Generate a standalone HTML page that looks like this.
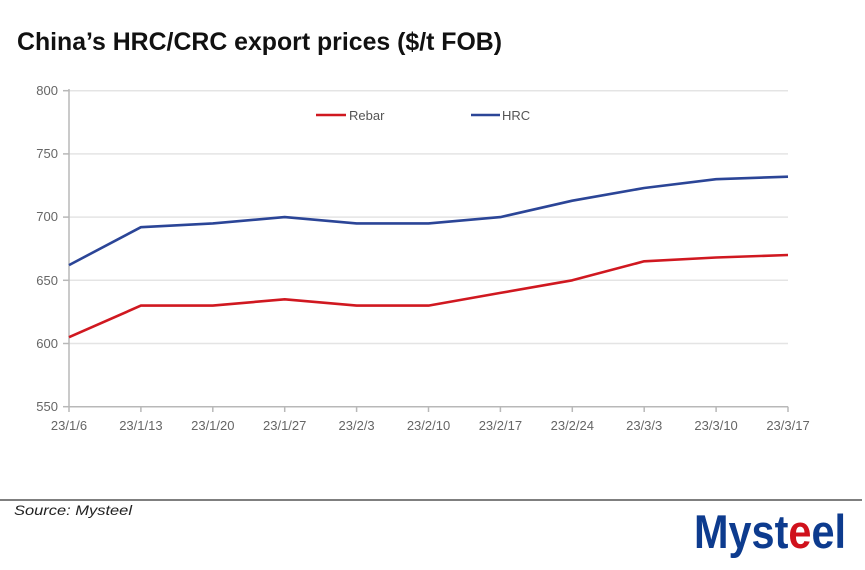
<!DOCTYPE html>
<html><head><meta charset="utf-8"><style>
html,body{margin:0;padding:0;background:#fff;}
svg{display:block;}
</style></head><body>
<svg width="865" height="570" viewBox="0 0 865 570" xmlns="http://www.w3.org/2000/svg">
<rect width="865" height="570" fill="#fff"/>
<text x="17" y="50" font-family="Liberation Sans, sans-serif" font-weight="bold" font-size="25" fill="#111" textLength="485" lengthAdjust="spacingAndGlyphs">China’s HRC/CRC export prices ($/t FOB)</text>
<g stroke="#e4e4e4" stroke-width="1.5">
<line x1="69" y1="90.7" x2="788" y2="90.7"/>
<line x1="69" y1="153.9" x2="788" y2="153.9"/>
<line x1="69" y1="217.1" x2="788" y2="217.1"/>
<line x1="69" y1="280.3" x2="788" y2="280.3"/>
<line x1="69" y1="343.5" x2="788" y2="343.5"/>
</g>
<g stroke="#b8b8b8" stroke-width="1.5">
<line x1="69" y1="89" x2="69" y2="407"/>
<line x1="69" y1="406.7" x2="788" y2="406.7"/>
<line x1="63" y1="90.7" x2="69" y2="90.7"/>
<line x1="63" y1="153.9" x2="69" y2="153.9"/>
<line x1="63" y1="217.1" x2="69" y2="217.1"/>
<line x1="63" y1="280.3" x2="69" y2="280.3"/>
<line x1="63" y1="343.5" x2="69" y2="343.5"/>
<line x1="63" y1="406.7" x2="69" y2="406.7"/>
<line x1="69" y1="406.7" x2="69" y2="412"/>
<line x1="140.9" y1="406.7" x2="140.9" y2="412"/>
<line x1="212.8" y1="406.7" x2="212.8" y2="412"/>
<line x1="284.7" y1="406.7" x2="284.7" y2="412"/>
<line x1="356.6" y1="406.7" x2="356.6" y2="412"/>
<line x1="428.5" y1="406.7" x2="428.5" y2="412"/>
<line x1="500.4" y1="406.7" x2="500.4" y2="412"/>
<line x1="572.3" y1="406.7" x2="572.3" y2="412"/>
<line x1="644.2" y1="406.7" x2="644.2" y2="412"/>
<line x1="716.1" y1="406.7" x2="716.1" y2="412"/>
<line x1="788" y1="406.7" x2="788" y2="412"/>
</g>
<g font-family="Liberation Sans, sans-serif" font-size="13" fill="#666" text-anchor="end">
<text x="58" y="95">800</text>
<text x="58" y="158">750</text>
<text x="58" y="221">700</text>
<text x="58" y="285">650</text>
<text x="58" y="348">600</text>
<text x="58" y="411">550</text>
</g>
<g font-family="Liberation Sans, sans-serif" font-size="13" fill="#666" text-anchor="middle">
<text x="69" y="430">23/1/6</text>
<text x="140.9" y="430">23/1/13</text>
<text x="212.8" y="430">23/1/20</text>
<text x="284.7" y="430">23/1/27</text>
<text x="356.6" y="430">23/2/3</text>
<text x="428.5" y="430">23/2/10</text>
<text x="500.4" y="430">23/2/17</text>
<text x="572.3" y="430">23/2/24</text>
<text x="644.2" y="430">23/3/3</text>
<text x="716.1" y="430">23/3/10</text>
<text x="788" y="430">23/3/17</text>
</g>
<polyline fill="none" stroke="#2b4597" stroke-width="2.6" stroke-linejoin="round" points="69,265.1 140.9,227.2 212.8,223.4 284.7,217.1 356.6,223.4 428.5,223.4 500.4,217.1 572.3,200.7 644.2,188 716.1,179.2 788,176.7"/>
<polyline fill="none" stroke="#d01820" stroke-width="2.6" stroke-linejoin="round" points="69,337.2 140.9,305.6 212.8,305.6 284.7,299.3 356.6,305.6 428.5,305.6 500.4,292.9 572.3,280.3 644.2,261.3 716.1,257.5 788,255"/>
<line x1="316" y1="115" x2="346" y2="115" stroke="#d01820" stroke-width="2.6"/>
<text x="349" y="120" font-family="Liberation Sans, sans-serif" font-size="13" fill="#555">Rebar</text>
<line x1="471" y1="115" x2="500" y2="115" stroke="#2b4597" stroke-width="2.6"/>
<text x="502" y="120" font-family="Liberation Sans, sans-serif" font-size="13" fill="#555">HRC</text>
<line x1="0" y1="500" x2="862" y2="500" stroke="#555" stroke-width="1.5"/>
<text x="14" y="515" font-family="Liberation Sans, sans-serif" font-style="italic" font-size="14" fill="#222" textLength="118" lengthAdjust="spacingAndGlyphs">Source: Mysteel</text>
<text x="694" y="548" font-family="Liberation Sans, sans-serif" font-weight="bold" font-size="47" fill="#0d3b8e" textLength="152" lengthAdjust="spacingAndGlyphs">Myst<tspan fill="#d0111c">e</tspan>el</text>
</svg>
</body></html>
